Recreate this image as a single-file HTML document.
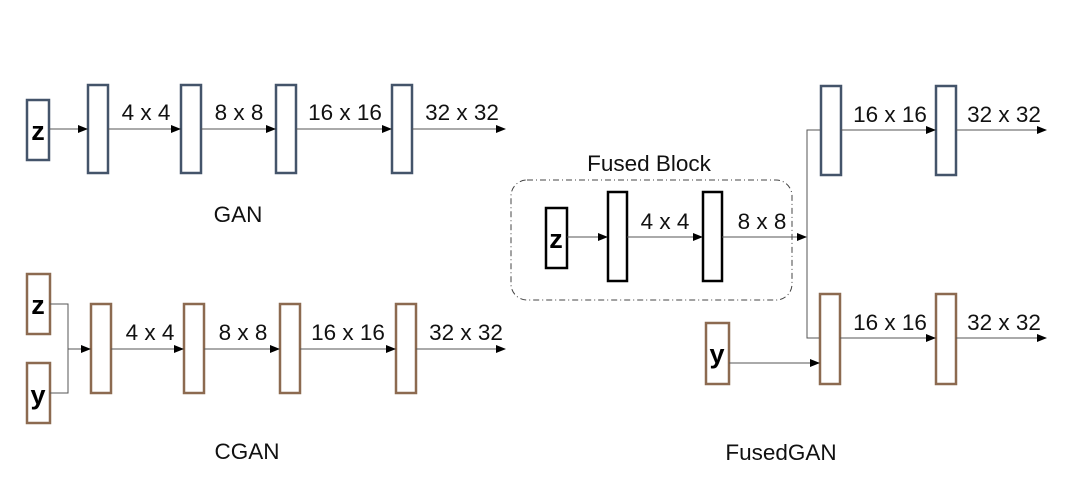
<!DOCTYPE html>
<html><head><style>body{margin:0;background:#fff}</style></head><body>
<svg width="1066" height="482" viewBox="0 0 1066 482" xmlns="http://www.w3.org/2000/svg" font-family="Liberation Sans, sans-serif">
<defs><marker id="a" markerWidth="10" markerHeight="8" refX="9" refY="4" orient="auto" markerUnits="userSpaceOnUse"><path d="M0,0 L10,4 L0,8z" fill="#000"/></marker></defs>
<g fill="none" stroke-width="2.5">
<g stroke="#44546a">
<rect x="27" y="100" width="22" height="60"/>
<rect x="88" y="85" width="20" height="88"/>
<rect x="181" y="85" width="20" height="88"/>
<rect x="276" y="85" width="20" height="88"/>
<rect x="392" y="85" width="20" height="88"/>
<rect x="821" y="86" width="20" height="89"/>
<rect x="936" y="86" width="20" height="89"/>
</g>
<g stroke="#8c6a50">
<rect x="27" y="274" width="23" height="60"/>
<rect x="27" y="363" width="23" height="60"/>
<rect x="91" y="304" width="20" height="89"/>
<rect x="184" y="304" width="20" height="89"/>
<rect x="280" y="304" width="20" height="89"/>
<rect x="396" y="304" width="20" height="89"/>
<rect x="706" y="323" width="23" height="61"/>
<rect x="820" y="294" width="20" height="90"/>
<rect x="936" y="294" width="20" height="90"/>
</g>
<g stroke="#000">
<rect x="546" y="208" width="21" height="60"/>
<rect x="608" y="192" width="19" height="89"/>
<rect x="703" y="192" width="19" height="89"/>
</g>
</g>
<rect x="511" y="180" width="281" height="120" rx="16" fill="none" stroke="#444" stroke-width="1" stroke-dasharray="6,3,1,3"/>
<g stroke="#555" stroke-width="1" fill="none">
<path d="M49 129H87" marker-end="url(#a)"/>
<path d="M108 129H180" marker-end="url(#a)"/>
<path d="M201 129H275" marker-end="url(#a)"/>
<path d="M296 129H391" marker-end="url(#a)"/>
<path d="M412 129H505" marker-end="url(#a)"/>
<path d="M50 304H68V393H50"/>
<path d="M68 349H90" marker-end="url(#a)"/>
<path d="M111 349H183" marker-end="url(#a)"/>
<path d="M204 349H279" marker-end="url(#a)"/>
<path d="M300 349H395" marker-end="url(#a)"/>
<path d="M416 349H505" marker-end="url(#a)"/>
<path d="M567 237H607" marker-end="url(#a)"/>
<path d="M627 237H702" marker-end="url(#a)"/>
<path d="M722 237H806" marker-end="url(#a)"/>
<path d="M820 130H807V338H819"/>
<path d="M841 130H935" marker-end="url(#a)"/>
<path d="M956 130H1046" marker-end="url(#a)"/>
<path d="M840 338H935" marker-end="url(#a)"/>
<path d="M956 338H1046" marker-end="url(#a)"/>
<path d="M729 363H819" marker-end="url(#a)"/>
</g>
<g font-size="22.5" fill="#111" text-anchor="middle">
<text x="146" y="120">4 x 4</text><text x="239" y="120">8 x 8</text><text x="345" y="120">16 x 16</text><text x="462" y="120">32 x 32</text>
<text x="238" y="222">GAN</text>
<text x="150" y="340">4 x 4</text><text x="243" y="340">8 x 8</text><text x="348" y="340">16 x 16</text><text x="466" y="340">32 x 32</text>
<text x="247" y="459">CGAN</text>
<text x="649" y="171">Fused Block</text>
<text x="665" y="229">4 x 4</text><text x="762" y="229">8 x 8</text>
<text x="890" y="122">16 x 16</text><text x="1004" y="122">32 x 32</text>
<text x="890" y="330">16 x 16</text><text x="1004" y="330">32 x 32</text>
<text x="781" y="460">FusedGAN</text>
</g>
<g font-size="27" font-weight="bold" fill="#000" text-anchor="middle">
<text x="38" y="140">z</text><text x="38" y="314">z</text><text x="38" y="404">y</text>
<text x="556" y="248">z</text><text x="717" y="363">y</text>
</g>
</svg>
</body></html>
